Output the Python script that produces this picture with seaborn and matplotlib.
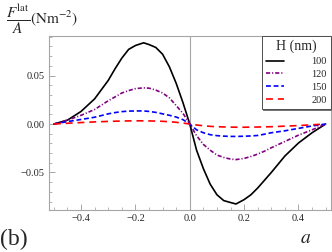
import numpy as np
import pandas as pd
import matplotlib
matplotlib.use("Agg")
import matplotlib.pyplot as plt
import seaborn as sns
from matplotlib.ticker import MultipleLocator, FixedLocator

sns.set_style("ticks")
plt.rcParams['font.family'] = ['Liberation Serif', 'DejaVu Serif']
plt.rcParams['mathtext.fontset'] = 'stix'
plt.rcParams['lines.scale_dashes'] = False

# values
a_vals = [-0.5, -0.45, -0.4, -0.35, -0.3, -0.275, -0.25, -0.225, -0.2, -0.17, -0.15, -0.125,
          -0.1, -0.075, -0.05, -0.025, 0.0,
          0.025, 0.05, 0.075, 0.1, 0.125, 0.15, 0.17, 0.2, 0.225, 0.25, 0.275, 0.3,
          0.35, 0.4, 0.45, 0.5]
f_100 = [0.0, 0.004, 0.013, 0.026, 0.045, 0.057, 0.068, 0.077, 0.081, 0.0838, 0.082, 0.079,
         0.072, 0.059, 0.042, 0.022, 0.0,
         -0.027, -0.046, -0.062, -0.073, -0.079, -0.081, -0.0825, -0.078, -0.073, -0.066, -0.058, -0.050,
         -0.033, -0.0196, -0.009, 0.0]
f_120 = [0.0, 0.004, 0.009, 0.015, 0.024, 0.028, 0.032, 0.0345, 0.0365, 0.0373, 0.037, 0.035,
         0.032, 0.027, 0.019, 0.011, 0.0,
         -0.012, -0.021, -0.027, -0.032, -0.0345, -0.0362, -0.0367, -0.0355, -0.0335, -0.031, -0.028, -0.0245,
         -0.018, -0.0115, -0.006, 0.0]
f_150 = [0.0, 0.0025, 0.0047, 0.007, 0.0105, 0.0118, 0.0128, 0.0133, 0.0135, 0.0135, 0.013, 0.012,
         0.0105, 0.009, 0.0072, 0.0045, 0.0,
         -0.006, -0.009, -0.011, -0.012, -0.0125, -0.0128, -0.0128, -0.0126, -0.0123, -0.0118, -0.0105, -0.009,
         -0.007, -0.0045, -0.002, 0.0]
f_200 = [0.0, 0.0008, 0.0015, 0.0022, 0.0027, 0.0029, 0.0031, 0.0032, 0.0033, 0.0033, 0.0032, 0.003,
         0.0028, 0.0024, 0.0018, 0.001, 0.0,
         -0.001, -0.0018, -0.0024, -0.0028, -0.003, -0.0032, -0.0033, -0.0033, -0.0032, -0.0031, -0.0029, -0.0028,
         -0.0022, -0.0016, -0.0008, 0.0]
H_labels = ['100', '120', '150', '200']

df = pd.concat([
    pd.DataFrame({'a': a_vals, 'F': f, 'H': h})
    for h, f in zip(H_labels, [f_100, f_120, f_150, f_200])
])

palette = {'100': 'black', '120': '#800080', '150': '#0000ff', '200': '#ff0000'}
dashes = {'100': '', '120': (3, 1.4, 0.8, 1.4), '150': (3.5, 2), '200': (5, 3.5)}

fig = plt.figure(figsize=(3.32, 2.52), dpi=100)
ax = fig.add_axes([0.1476, 0.1667, 0.848, 0.690])

ax.axvline(0, color='0.65', lw=0.8, zorder=1)
sns.lineplot(data=df, x='a', y='F', hue='H', style='H', palette=palette, dashes=dashes,
             hue_order=H_labels, style_order=H_labels, linewidth=1.2, ax=ax, legend=False,
             zorder=3)

ax.set_xlim(-0.518, 0.518)
ax.set_ylim(-0.0887, 0.0907)
ax.xaxis.set_major_locator(FixedLocator([-0.4, -0.2, 0.0, 0.2, 0.4]))
ax.xaxis.set_minor_locator(MultipleLocator(0.05))
ax.yaxis.set_major_locator(FixedLocator([-0.05, 0.0, 0.05]))
ax.yaxis.set_minor_locator(MultipleLocator(0.01))
ax.set_xticklabels(['\u22120.4', '\u22120.2', '0.0', '0.2', '0.4'])
ax.set_yticklabels(['\u22120.05', '0.00', '0.05'])
ax.tick_params(which='both', direction='in', color='0.6', labelsize=7.5, pad=3)
ax.tick_params(which='major', length=4, width=0.6)
ax.tick_params(which='minor', length=2.2, width=0.5)
for s in ax.spines.values():
    s.set_color('0.65')
    s.set_linewidth(0.8)
ax.set_xlabel('')
ax.set_ylabel('')

handles = ax.get_lines()[1:]
leg = ax.legend(handles, H_labels, title='H (nm)', loc='upper right', bbox_to_anchor=(1.0, 1.0),
                borderaxespad=0, fontsize=7.5, title_fontsize=10, handlelength=1.8,
                handletextpad=2.6, labelspacing=0.35, borderpad=0.35, fancybox=False,
                framealpha=1, edgecolor='0.3',
                shadow={'ox': 1.0, 'oy': -1.0, 'color': '0.45', 'alpha': 1})
leg.get_frame().set_linewidth(0.7)
leg.set_zorder(5)

fig.text(0.018, 0.99, r'$\dfrac{F^{\mathrm{lat}}}{A}(\mathrm{Nm}^{-2})$', fontsize=11,
         va='top', ha='left')
fig.text(0.0, 0.008, '(b)', fontsize=17, va='bottom', ha='left')
fig.text(0.905, 0.02, r'$a$', fontsize=14, va='bottom', ha='left')

fig.savefig('out.png', dpi=100)
